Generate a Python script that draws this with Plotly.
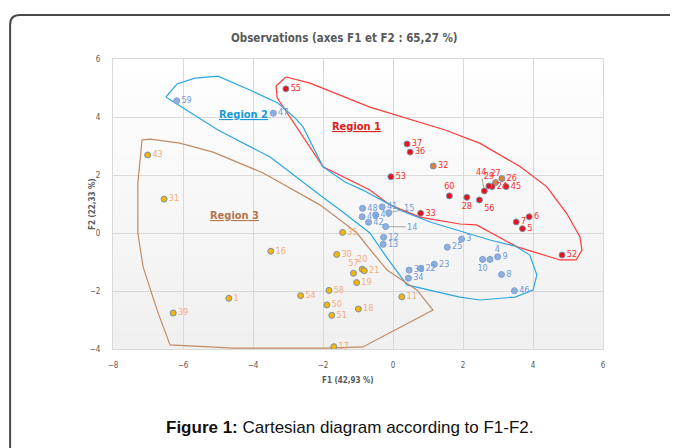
import plotly.graph_objects as go

# ---------------- data ----------------
red_labels = ["55", "37", "36", "53", "60", "28", "56", "24", "29", "45", "6", "7", "5", "33", "52"]
red_x = [-3.06, 0.40, 0.49, -0.06, 1.61, 2.11, 2.47, 2.83, 2.74, 3.23, 3.89, 3.52, 3.70, 0.79, 4.83]
red_y = [4.97, 3.07, 2.79, 1.94, 1.28, 1.23, 1.14, 1.60, 1.62, 1.60, 0.56, 0.38, 0.15, 0.68, -0.76]
red_pos = ["middle right", "middle right", "middle right", "middle right", "top center", "bottom center",
           "bottom right", "middle right", "top center", "middle right", "middle right", "middle right",
           "middle right", "middle right", "middle right"]

orange_labels = ["32", "27", "26"]
orange_x = [1.15, 2.93, 3.11]
orange_y = [2.31, 1.74, 1.88]
orange_pos = ["middle right", "top center", "middle right"]

blue_labels = ["59", "47", "48", "49", "42", "40", "41", "12", "13", "3", "25", "10", "4", "9",
               "8", "46", "23", "22", "38", "34"]
blue_x = [-6.18, -3.42, -0.87, -0.88, -0.70, -0.49, -0.31, -0.27, -0.28, 1.96, 1.55, 2.56, 2.77, 2.99,
          3.10, 3.47, 1.18, 0.79, 0.46, 0.44]
blue_y = [4.56, 4.13, 0.85, 0.56, 0.37, 0.62, 0.90, -0.15, -0.39, -0.21, -0.49, -0.91, -0.91, -0.82,
          -1.43, -1.99, -1.08, -1.22, -1.28, -1.56]
blue_pos = ["middle right"] * 11 + ["bottom center", "top right"] + ["middle right"] * 7

# observations with leader lines (point, then label position)
leader_labels = ["44", "14", "15"]
leader_x = [2.61, -0.21, -0.12]
leader_y = [1.45, 0.22, 0.70]
leader_lx = [2.51, 0.55, 0.47]
leader_ly = [2.10, 0.21, 0.85]
leader_group = ["red", "blue", "blue"]

yellow_labels = ["43", "31", "16", "1", "39", "54", "35", "30", "57", "20", "21", "19", "58", "50",
                 "51", "18", "17", "11"]
yellow_x = [-7.01, -6.54, -3.49, -4.69, -6.28, -2.64, -1.44, -1.61, -1.13, -0.88, -0.82, -1.04, -1.83,
            -1.89, -1.75, -0.99, -1.69, 0.25]
yellow_y = [2.69, 1.17, -0.63, -2.25, -2.76, -2.16, 0.02, -0.74, -1.39, -1.25, -1.30, -1.71, -1.98,
            -2.48, -2.84, -2.62, -3.92, -2.20]
yellow_pos = ["middle right"] * 8 + ["top center", "top center"] + ["middle right"] * 8

# region outlines (F1, F2)
region1_x = [-3.06, -2.37, -0.66, 1.49, 2.49, 3.63, 4.39, 4.96, 5.34, 5.40, 5.23, 4.77, 3.53, 2.58,
             2.39, 1.91, 0.77, -0.09, -0.66, -2.00, -3.31, -3.34, -3.06]
region1_y = [5.38, 5.17, 4.34, 3.55, 3.09, 2.29, 1.60, 0.68, -0.13, -0.59, -0.93, -0.93, -0.47, 0.16,
             0.28, 0.31, 0.55, 0.97, 1.48, 2.28, 4.66, 5.07, 5.38]

region2_x = [-6.49, -6.17, -5.66, -5.00, -4.09, -3.29, -2.80, -2.57, -2.00, -1.37, -0.86, 0.20, 1.06,
             2.00, 2.77, 3.49, 3.91, 4.11, 4.00, 3.49, 2.49, 1.91, 0.77, 0.40, -0.17, -0.66, -1.51,
             -2.09, -3.51, -5.00, -6.49]
region2_y = [4.69, 5.14, 5.34, 5.41, 4.93, 4.48, 3.97, 3.66, 2.28, 1.76, 1.48, 0.79, 0.38, 0.03, -0.24,
             -0.45, -0.76, -1.45, -1.97, -2.21, -2.31, -2.21, -1.90, -1.79, -0.86, 0.00, 0.79, 1.31,
             2.62, 3.55, 4.69]

region3_x = [-7.17, -6.94, -6.09, -5.14, -3.71, -2.09, -1.51, -1.03, -0.57, -0.17, 0.69, 1.14, -0.86,
             -1.89, -4.57, -6.37, -6.74, -7.14, -7.29, -7.29, -7.17]
region3_y = [3.21, 3.24, 3.10, 2.79, 2.07, 0.97, 0.45, 0.00, -0.69, -1.28, -1.97, -2.66, -3.93, -3.97,
             -3.97, -3.86, -2.66, -1.17, 0.00, 1.72, 3.21]

region_names = ["Region 1", "Region 2", "Region 3"]
region_label_x = [-1.03, -4.26, -4.54]
region_label_y = [3.66, 4.07, 0.62]

x_ticks = [-8, -6, -4, -2, 0, 2, 4, 6]
y_ticks = [-4, -2, 0, 2, 4, 6]

# ---------------- styles ----------------
NARROW = "Liberation Sans Narrow, Arial Narrow, DejaVu Sans Condensed, sans-serif"
RED_FILL, RED_TXT = "#e8101a", "#ff2a2a"
ORANGE_FILL = "#d9823b"
BLUE_FILL, BLUE_TXT = "#8fb0df", "#6f9bd8"
YEL_FILL, YEL_TXT = "#f2b705", "#f4ad7e"
OUTLINE = "#7f8fa9"
REG_COL = ["#ff3a3a", "#2aa8e0", "#c08c66"]
REG_TXT = ["#e02020", "#1a9ad8", "#b5754a"]
LBL = 9

fig = go.Figure()

# region outlines
for rx, ry, col in [(region1_x, region1_y, REG_COL[0]), (region2_x, region2_y, REG_COL[1]),
                    (region3_x, region3_y, REG_COL[2])]:
    fig.add_trace(go.Scatter(x=rx, y=ry, mode="lines", line=dict(color=col, width=1.2),
                             hoverinfo="skip", showlegend=False))


def pts(x, y, labels, pos, fill, line, txtcol):
    fig.add_trace(go.Scatter(
        x=x, y=y, mode="markers+text", text=labels, textposition=pos,
        textfont=dict(family=NARROW, size=LBL, color=txtcol),
        marker=dict(size=6, color=fill, line=dict(color=line, width=1)),
        showlegend=False, cliponaxis=False))


pts(yellow_x, yellow_y, yellow_labels, yellow_pos, YEL_FILL, OUTLINE, YEL_TXT)
pts(blue_x, blue_y, blue_labels, blue_pos, BLUE_FILL, "#7c9fd4", BLUE_TXT)
pts(orange_x, orange_y, orange_labels, orange_pos, ORANGE_FILL, OUTLINE, RED_TXT)
pts(red_x, red_y, red_labels, red_pos, RED_FILL, OUTLINE, RED_TXT)

annotations = []
for lab, px, py, lx, ly, grp in zip(leader_labels, leader_x, leader_y, leader_lx, leader_ly, leader_group):
    fill, lc, tc = (RED_FILL, OUTLINE, RED_TXT) if grp == "red" else (BLUE_FILL, "#7c9fd4", BLUE_TXT)
    fig.add_trace(go.Scatter(x=[px], y=[py], mode="markers",
                             marker=dict(size=6, color=fill, line=dict(color=lc, width=1)),
                             showlegend=False))
    annotations.append(dict(x=px, y=py, xref="x", yref="y", ax=lx, ay=ly, axref="x", ayref="y",
                            text=lab, showarrow=True, arrowhead=0, arrowwidth=1, arrowcolor="#a6a6a6",
                            standoff=3, font=dict(family=NARROW, size=LBL, color=tc)))

for name, lx, ly, col in zip(region_names, region_label_x, region_label_y, REG_TXT):
    annotations.append(dict(x=lx, y=ly, xref="x", yref="y", text="<b><u>" + name + "</u></b>",
                            showarrow=False, yanchor="middle",
                            font=dict(family=NARROW, size=11, color=col)))

# title, axis titles, caption
annotations += [
    dict(x=0.473, y=1.072, xref="paper", yref="paper", showarrow=False, yanchor="middle",
         text="<b>Observations (axes F1 et F2 : 65,27 %)</b>",
         font=dict(family=NARROW, size=11.5, color="#595959")),
    dict(x=0.48, y=-0.110, xref="paper", yref="paper", showarrow=False, yanchor="middle",
         text="<b>F1 (42,93 %)</b>",
         font=dict(family=NARROW, size=8, color="#595959")),
    dict(x=-0.043, y=0.5, xref="paper", yref="paper", showarrow=False, xanchor="center",
         yanchor="middle", text="<b>F2 (22,33 %)</b>",
         textangle=-90, font=dict(family=NARROW, size=8, color="#595959")),
    dict(x=0.484, y=-0.272, xref="paper", yref="paper", showarrow=False, yanchor="middle",
         text="<b>Figure 1:</b> Cartesian diagram according to F1-F2.",
         font=dict(family="Liberation Sans, Arial, sans-serif", size=17, color="#111111")),
]

# plot-area gradient background and page frame
shapes = []
nb = 30
for i in range(nb):
    t = i / (nb - 1)
    c = int(240 + 15 * t)
    shapes.append(dict(type="rect", xref="paper", yref="paper", x0=0, x1=1, y0=i / nb, y1=(i + 1) / nb,
                       fillcolor=f"rgb({c},{c},{c})", line=dict(width=0), layer="below"))
shapes.append(dict(type="path", xref="paper", yref="paper",
                   path="M -0.210,-0.40 L -0.210,1.118 Q -0.210,1.152 -0.190,1.152 L 1.20,1.152",
                   line=dict(color="#4a4a4a", width=2)))

# the page body adds an 8px offset, so the figure is sized/margined to compensate
fig.update_layout(
    width=670, height=440,
    margin=dict(l=105, r=75, t=51, b=99),
    paper_bgcolor="white", plot_bgcolor="rgba(0,0,0,0)",
    showlegend=False,
    annotations=annotations, shapes=shapes,
    xaxis=dict(range=[-8, 6], tickvals=x_ticks, showgrid=True, gridcolor="#d9d9d9", gridwidth=1,
               zeroline=False, showline=True, linecolor="#d9d9d9", mirror=True,
               tickfont=dict(family=NARROW, size=8, color="#595959"), ticks="", ticklabelstandoff=8),
    yaxis=dict(range=[-4, 6], tickvals=y_ticks, showgrid=True, gridcolor="#d9d9d9", gridwidth=1,
               zeroline=False, showline=True, linecolor="#d9d9d9", mirror=True,
               tickfont=dict(family=NARROW, size=8, color="#595959"), ticks="", ticklabelstandoff=10),
)

fig.write_html("out.html")
